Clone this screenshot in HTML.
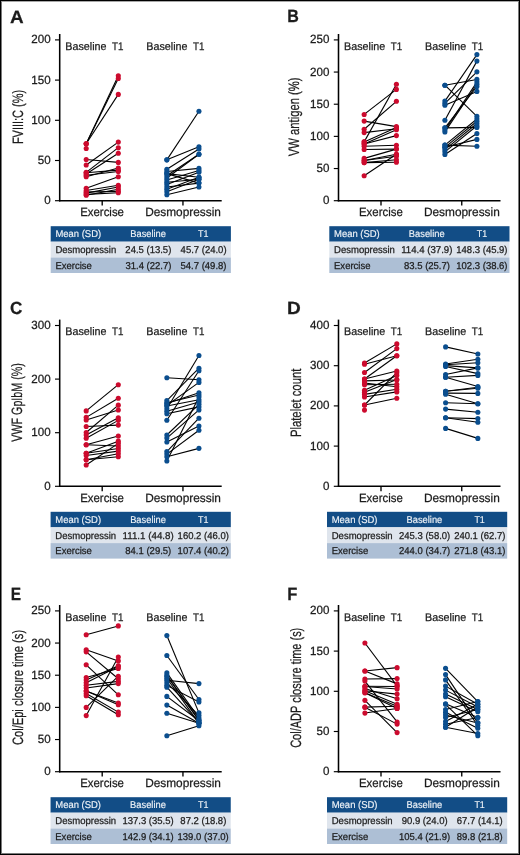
<!DOCTYPE html>
<html><head><meta charset="utf-8"><title>Figure</title><style>
html,body{margin:0;padding:0;background:#fff;}
body{width:520px;height:855px;overflow:hidden;position:relative;}
#frame{position:absolute;left:0;top:0;width:520px;height:855px;box-sizing:border-box;border:1px solid #000;}
#frame2{position:absolute;left:1px;top:1px;width:518px;height:853px;box-sizing:border-box;border:1px solid #7a7a7a;border-top-color:#a8a8a8;}
svg{position:absolute;left:0;top:0;will-change:transform;}
text{font-family:'Liberation Sans', sans-serif;text-rendering:geometricPrecision;fill:#1c1c1c;stroke:#1c1c1c;stroke-width:0.25px;}
.ax{stroke:#000;stroke-width:1.55;}
.tk{stroke:#000;stroke-width:1.15;}
.cn{stroke:#000;stroke-width:1.1;}
.th{fill:#f0f4f8;stroke:#f0f4f8;stroke-width:0.15px;}
.td{fill:#1c1c1c;}
</style></head>
<body>
<svg width="520" height="855" viewBox="0 0 520 855">
<text x="10.03" y="22.6" font-size="17.7" font-weight="bold" fill="#000" textLength="13.67" lengthAdjust="spacingAndGlyphs">A</text>
<line x1="59.7" y1="34" x2="59.7" y2="201.4" class="ax"/>
<line x1="59" y1="200.7" x2="221.7" y2="200.7" class="ax"/>
<line x1="55" y1="200.7" x2="59.7" y2="200.7" class="tk"/>
<text x="44.16" y="204.2" font-size="11.9" textLength="6.45" lengthAdjust="spacingAndGlyphs">0</text>
<line x1="55" y1="160.5" x2="59.7" y2="160.5" class="tk"/>
<text x="37.71" y="164" font-size="11.9" textLength="12.89" lengthAdjust="spacingAndGlyphs">50</text>
<line x1="55" y1="120.3" x2="59.7" y2="120.3" class="tk"/>
<text x="31.26" y="123.8" font-size="11.9" textLength="19.34" lengthAdjust="spacingAndGlyphs">100</text>
<line x1="55" y1="80.1" x2="59.7" y2="80.1" class="tk"/>
<text x="31.26" y="83.6" font-size="11.9" textLength="19.34" lengthAdjust="spacingAndGlyphs">150</text>
<line x1="55" y1="39.9" x2="59.7" y2="39.9" class="tk"/>
<text x="31.26" y="43.4" font-size="11.9" textLength="19.34" lengthAdjust="spacingAndGlyphs">200</text>
<line x1="102.2" y1="200.7" x2="102.2" y2="205.6" class="tk" style="stroke-width:1.35"/>
<line x1="182.95" y1="200.7" x2="182.95" y2="205.6" class="tk" style="stroke-width:1.35"/>
<text x="80.21" y="216.3" font-size="12.0" textLength="43.74" lengthAdjust="spacingAndGlyphs">Exercise</text>
<text x="145.13" y="216.3" font-size="12.0" textLength="75.84" lengthAdjust="spacingAndGlyphs">Desmopressin</text>
<text x="65.32" y="49.5" font-size="11.0" textLength="41.16" lengthAdjust="spacingAndGlyphs">Baseline</text>
<text x="111.98" y="49.5" font-size="11.0" textLength="11.4" lengthAdjust="spacingAndGlyphs">T1</text>
<text x="146.32" y="49.5" font-size="11.0" textLength="41.16" lengthAdjust="spacingAndGlyphs">Baseline</text>
<text x="192.98" y="49.5" font-size="11.0" textLength="11.4" lengthAdjust="spacingAndGlyphs">T1</text>
<g transform="translate(22.9,116.9) rotate(-90)"><text x="-27.2" y="0" font-size="15.0" textLength="54.18" lengthAdjust="spacingAndGlyphs">FVIII:C (%)</text></g>
<line x1="86.2" y1="143.76" x2="118.3" y2="75.68" class="cn"/>
<line x1="86.2" y1="143.76" x2="118.3" y2="78.48" class="cn"/>
<line x1="86.2" y1="143.76" x2="118.3" y2="94.4" class="cn"/>
<line x1="86.2" y1="159.52" x2="118.3" y2="162.4" class="cn"/>
<line x1="86.2" y1="165.04" x2="118.3" y2="142.08" class="cn"/>
<line x1="86.2" y1="172.32" x2="118.3" y2="147.68" class="cn"/>
<line x1="86.2" y1="174.08" x2="118.3" y2="153.28" class="cn"/>
<line x1="86.2" y1="176.72" x2="118.3" y2="168" class="cn"/>
<line x1="86.2" y1="172.8" x2="118.3" y2="170.16" class="cn"/>
<line x1="86.2" y1="175.2" x2="118.3" y2="171.52" class="cn"/>
<line x1="86.2" y1="188.32" x2="118.3" y2="176.8" class="cn"/>
<line x1="86.2" y1="190.48" x2="118.3" y2="185.28" class="cn"/>
<line x1="86.2" y1="193.12" x2="118.3" y2="187.04" class="cn"/>
<line x1="86.2" y1="195.28" x2="118.3" y2="189.2" class="cn"/>
<line x1="86.2" y1="192" x2="118.3" y2="191.36" class="cn"/>
<line x1="86.2" y1="194.4" x2="118.3" y2="192.72" class="cn"/>
<line x1="166.85" y1="159.84" x2="198.95" y2="111.2" class="cn"/>
<line x1="166.85" y1="159.84" x2="198.95" y2="146.8" class="cn"/>
<line x1="166.85" y1="169.28" x2="198.95" y2="148.96" class="cn"/>
<line x1="166.85" y1="175.76" x2="198.95" y2="154.24" class="cn"/>
<line x1="166.85" y1="178" x2="198.95" y2="154.24" class="cn"/>
<line x1="166.85" y1="171.52" x2="198.95" y2="168.4" class="cn"/>
<line x1="166.85" y1="173.6" x2="198.95" y2="177.28" class="cn"/>
<line x1="166.85" y1="180.08" x2="198.95" y2="170.56" class="cn"/>
<line x1="166.85" y1="182.24" x2="198.95" y2="179.28" class="cn"/>
<line x1="166.85" y1="184.4" x2="198.95" y2="172.32" class="cn"/>
<line x1="166.85" y1="187.04" x2="198.95" y2="183.12" class="cn"/>
<line x1="166.85" y1="189.2" x2="198.95" y2="177.28" class="cn"/>
<line x1="166.85" y1="191.76" x2="198.95" y2="179.28" class="cn"/>
<line x1="166.85" y1="194.8" x2="198.95" y2="187.04" class="cn"/>
<line x1="166.85" y1="173.6" x2="198.95" y2="183.12" class="cn"/>
<circle cx="86.2" cy="143.76" r="2.55" fill="#cc0b2e"/>
<circle cx="118.3" cy="75.68" r="2.55" fill="#cc0b2e"/>
<circle cx="86.2" cy="143.76" r="2.55" fill="#cc0b2e"/>
<circle cx="118.3" cy="78.48" r="2.55" fill="#cc0b2e"/>
<circle cx="86.2" cy="143.76" r="2.55" fill="#cc0b2e"/>
<circle cx="118.3" cy="94.4" r="2.55" fill="#cc0b2e"/>
<circle cx="86.2" cy="148.48" r="2.55" fill="#cc0b2e"/>
<circle cx="86.2" cy="159.52" r="2.55" fill="#cc0b2e"/>
<circle cx="118.3" cy="162.4" r="2.55" fill="#cc0b2e"/>
<circle cx="86.2" cy="165.04" r="2.55" fill="#cc0b2e"/>
<circle cx="118.3" cy="142.08" r="2.55" fill="#cc0b2e"/>
<circle cx="86.2" cy="172.32" r="2.55" fill="#cc0b2e"/>
<circle cx="118.3" cy="147.68" r="2.55" fill="#cc0b2e"/>
<circle cx="86.2" cy="174.08" r="2.55" fill="#cc0b2e"/>
<circle cx="118.3" cy="153.28" r="2.55" fill="#cc0b2e"/>
<circle cx="86.2" cy="176.72" r="2.55" fill="#cc0b2e"/>
<circle cx="118.3" cy="168" r="2.55" fill="#cc0b2e"/>
<circle cx="86.2" cy="172.8" r="2.55" fill="#cc0b2e"/>
<circle cx="118.3" cy="170.16" r="2.55" fill="#cc0b2e"/>
<circle cx="86.2" cy="175.2" r="2.55" fill="#cc0b2e"/>
<circle cx="118.3" cy="171.52" r="2.55" fill="#cc0b2e"/>
<circle cx="86.2" cy="188.32" r="2.55" fill="#cc0b2e"/>
<circle cx="118.3" cy="176.8" r="2.55" fill="#cc0b2e"/>
<circle cx="86.2" cy="190.48" r="2.55" fill="#cc0b2e"/>
<circle cx="118.3" cy="185.28" r="2.55" fill="#cc0b2e"/>
<circle cx="86.2" cy="193.12" r="2.55" fill="#cc0b2e"/>
<circle cx="118.3" cy="187.04" r="2.55" fill="#cc0b2e"/>
<circle cx="86.2" cy="195.28" r="2.55" fill="#cc0b2e"/>
<circle cx="118.3" cy="189.2" r="2.55" fill="#cc0b2e"/>
<circle cx="86.2" cy="192" r="2.55" fill="#cc0b2e"/>
<circle cx="118.3" cy="191.36" r="2.55" fill="#cc0b2e"/>
<circle cx="86.2" cy="194.4" r="2.55" fill="#cc0b2e"/>
<circle cx="118.3" cy="192.72" r="2.55" fill="#cc0b2e"/>
<circle cx="166.85" cy="159.84" r="2.55" fill="#0b4e8e"/>
<circle cx="198.95" cy="111.2" r="2.55" fill="#0b4e8e"/>
<circle cx="166.85" cy="159.84" r="2.55" fill="#0b4e8e"/>
<circle cx="198.95" cy="146.8" r="2.55" fill="#0b4e8e"/>
<circle cx="166.85" cy="169.28" r="2.55" fill="#0b4e8e"/>
<circle cx="198.95" cy="148.96" r="2.55" fill="#0b4e8e"/>
<circle cx="166.85" cy="175.76" r="2.55" fill="#0b4e8e"/>
<circle cx="198.95" cy="154.24" r="2.55" fill="#0b4e8e"/>
<circle cx="166.85" cy="178" r="2.55" fill="#0b4e8e"/>
<circle cx="198.95" cy="154.24" r="2.55" fill="#0b4e8e"/>
<circle cx="166.85" cy="171.52" r="2.55" fill="#0b4e8e"/>
<circle cx="198.95" cy="168.4" r="2.55" fill="#0b4e8e"/>
<circle cx="166.85" cy="173.6" r="2.55" fill="#0b4e8e"/>
<circle cx="198.95" cy="177.28" r="2.55" fill="#0b4e8e"/>
<circle cx="166.85" cy="180.08" r="2.55" fill="#0b4e8e"/>
<circle cx="198.95" cy="170.56" r="2.55" fill="#0b4e8e"/>
<circle cx="166.85" cy="182.24" r="2.55" fill="#0b4e8e"/>
<circle cx="198.95" cy="179.28" r="2.55" fill="#0b4e8e"/>
<circle cx="166.85" cy="184.4" r="2.55" fill="#0b4e8e"/>
<circle cx="198.95" cy="172.32" r="2.55" fill="#0b4e8e"/>
<circle cx="166.85" cy="187.04" r="2.55" fill="#0b4e8e"/>
<circle cx="198.95" cy="183.12" r="2.55" fill="#0b4e8e"/>
<circle cx="166.85" cy="189.2" r="2.55" fill="#0b4e8e"/>
<circle cx="198.95" cy="177.28" r="2.55" fill="#0b4e8e"/>
<circle cx="166.85" cy="191.76" r="2.55" fill="#0b4e8e"/>
<circle cx="198.95" cy="179.28" r="2.55" fill="#0b4e8e"/>
<circle cx="166.85" cy="194.8" r="2.55" fill="#0b4e8e"/>
<circle cx="198.95" cy="187.04" r="2.55" fill="#0b4e8e"/>
<circle cx="166.85" cy="173.6" r="2.55" fill="#0b4e8e"/>
<circle cx="198.95" cy="183.12" r="2.55" fill="#0b4e8e"/>
<rect x="50.7" y="226.2" width="180.2" height="15.5" fill="#124d86"/>
<rect x="50.7" y="241.7" width="180.2" height="15.8" fill="#dfe5ed"/>
<rect x="50.7" y="257.5" width="180.2" height="15.5" fill="#adbfd5"/>
<text x="55.42" y="237.1" font-size="9.9" class="th" textLength="45.76" lengthAdjust="spacingAndGlyphs">Mean (SD)</text>
<text x="130.23" y="237.1" font-size="9.9" class="th" textLength="35.78" lengthAdjust="spacingAndGlyphs">Baseline</text>
<text x="198.12" y="237.1" font-size="9.9" class="th" textLength="10.4" lengthAdjust="spacingAndGlyphs">T1</text>
<text x="55.42" y="252.95" font-size="9.9" class="td" textLength="60.87" lengthAdjust="spacingAndGlyphs">Desmopressin</text>
<text x="125.37" y="252.95" font-size="9.9" class="td" textLength="45.97" lengthAdjust="spacingAndGlyphs">24.5 (13.5)</text>
<text x="180.6" y="252.95" font-size="9.9" class="td" textLength="45.97" lengthAdjust="spacingAndGlyphs">45.7 (24.0)</text>
<text x="55.42" y="268.6" font-size="9.9" class="td" textLength="36.52" lengthAdjust="spacingAndGlyphs">Exercise</text>
<text x="125.43" y="268.6" font-size="9.9" class="td" textLength="45.97" lengthAdjust="spacingAndGlyphs">31.4 (22.7)</text>
<text x="180.52" y="268.6" font-size="9.9" class="td" textLength="45.97" lengthAdjust="spacingAndGlyphs">54.7 (49.8)</text>
<text x="287.33" y="22.3" font-size="17.7" font-weight="bold" fill="#000" textLength="11.6" lengthAdjust="spacingAndGlyphs">B</text>
<line x1="338.5" y1="34" x2="338.5" y2="201.4" class="ax"/>
<line x1="337.8" y1="200.7" x2="500.5" y2="200.7" class="ax"/>
<line x1="333.8" y1="200.7" x2="338.5" y2="200.7" class="tk"/>
<text x="322.96" y="204.2" font-size="11.9" textLength="6.45" lengthAdjust="spacingAndGlyphs">0</text>
<line x1="333.8" y1="168.54" x2="338.5" y2="168.54" class="tk"/>
<text x="316.51" y="172.04" font-size="11.9" textLength="12.89" lengthAdjust="spacingAndGlyphs">50</text>
<line x1="333.8" y1="136.38" x2="338.5" y2="136.38" class="tk"/>
<text x="310.06" y="139.88" font-size="11.9" textLength="19.34" lengthAdjust="spacingAndGlyphs">100</text>
<line x1="333.8" y1="104.22" x2="338.5" y2="104.22" class="tk"/>
<text x="310.06" y="107.72" font-size="11.9" textLength="19.34" lengthAdjust="spacingAndGlyphs">150</text>
<line x1="333.8" y1="72.06" x2="338.5" y2="72.06" class="tk"/>
<text x="310.06" y="75.56" font-size="11.9" textLength="19.34" lengthAdjust="spacingAndGlyphs">200</text>
<line x1="333.8" y1="39.9" x2="338.5" y2="39.9" class="tk"/>
<text x="310.06" y="43.4" font-size="11.9" textLength="19.34" lengthAdjust="spacingAndGlyphs">250</text>
<line x1="381" y1="200.7" x2="381" y2="205.6" class="tk" style="stroke-width:1.35"/>
<line x1="461.75" y1="200.7" x2="461.75" y2="205.6" class="tk" style="stroke-width:1.35"/>
<text x="359.01" y="216.3" font-size="12.0" textLength="43.74" lengthAdjust="spacingAndGlyphs">Exercise</text>
<text x="423.93" y="216.3" font-size="12.0" textLength="75.84" lengthAdjust="spacingAndGlyphs">Desmopressin</text>
<text x="344.12" y="49.5" font-size="11.0" textLength="41.16" lengthAdjust="spacingAndGlyphs">Baseline</text>
<text x="390.78" y="49.5" font-size="11.0" textLength="11.4" lengthAdjust="spacingAndGlyphs">T1</text>
<text x="425.12" y="49.5" font-size="11.0" textLength="41.16" lengthAdjust="spacingAndGlyphs">Baseline</text>
<text x="471.78" y="49.5" font-size="11.0" textLength="11.4" lengthAdjust="spacingAndGlyphs">T1</text>
<g transform="translate(299,117.15) rotate(-90)"><text x="-39" y="0" font-size="15.0" textLength="78.65" lengthAdjust="spacingAndGlyphs">VW antigen (%)</text></g>
<line x1="364.15" y1="114.43" x2="396.4" y2="89.41" class="cn"/>
<line x1="364.15" y1="121.09" x2="396.4" y2="126.59" class="cn"/>
<line x1="364.15" y1="129.22" x2="396.4" y2="101.31" class="cn"/>
<line x1="364.15" y1="132.61" x2="396.4" y2="128.77" class="cn"/>
<line x1="364.15" y1="141.89" x2="396.4" y2="84.29" class="cn"/>
<line x1="364.15" y1="141.89" x2="396.4" y2="127.49" class="cn"/>
<line x1="364.15" y1="144" x2="396.4" y2="135.62" class="cn"/>
<line x1="364.15" y1="144" x2="396.4" y2="129.73" class="cn"/>
<line x1="364.15" y1="146.18" x2="396.4" y2="145.28" class="cn"/>
<line x1="364.15" y1="149.5" x2="396.4" y2="149.12" class="cn"/>
<line x1="364.15" y1="158.4" x2="396.4" y2="149.12" class="cn"/>
<line x1="364.15" y1="160.51" x2="396.4" y2="154.18" class="cn"/>
<line x1="364.15" y1="160.51" x2="396.4" y2="156.29" class="cn"/>
<line x1="364.15" y1="162.62" x2="396.4" y2="159.68" class="cn"/>
<line x1="364.15" y1="162.62" x2="396.4" y2="162.18" class="cn"/>
<line x1="364.15" y1="175.81" x2="396.4" y2="154.18" class="cn"/>
<line x1="444.9" y1="85.18" x2="476.9" y2="79.42" class="cn"/>
<line x1="444.9" y1="85.18" x2="476.9" y2="116.42" class="cn"/>
<line x1="444.9" y1="101.12" x2="476.9" y2="54.59" class="cn"/>
<line x1="444.9" y1="103.3" x2="476.9" y2="71.87" class="cn"/>
<line x1="444.9" y1="105.28" x2="476.9" y2="91.39" class="cn"/>
<line x1="444.9" y1="120.19" x2="476.9" y2="61.12" class="cn"/>
<line x1="444.9" y1="127.87" x2="476.9" y2="86.53" class="cn"/>
<line x1="444.9" y1="127.87" x2="476.9" y2="127.42" class="cn"/>
<line x1="444.9" y1="130.11" x2="476.9" y2="82.11" class="cn"/>
<line x1="444.9" y1="131.9" x2="476.9" y2="84.29" class="cn"/>
<line x1="444.9" y1="145.09" x2="476.9" y2="118.98" class="cn"/>
<line x1="444.9" y1="147.33" x2="476.9" y2="121.22" class="cn"/>
<line x1="444.9" y1="149.57" x2="476.9" y2="123.52" class="cn"/>
<line x1="444.9" y1="151.81" x2="476.9" y2="125.7" class="cn"/>
<line x1="444.9" y1="154.43" x2="476.9" y2="133.57" class="cn"/>
<line x1="444.9" y1="147.33" x2="476.9" y2="139.39" class="cn"/>
<line x1="444.9" y1="145.09" x2="476.9" y2="146.18" class="cn"/>
<circle cx="364.15" cy="114.43" r="2.55" fill="#cc0b2e"/>
<circle cx="396.4" cy="89.41" r="2.55" fill="#cc0b2e"/>
<circle cx="364.15" cy="121.09" r="2.55" fill="#cc0b2e"/>
<circle cx="396.4" cy="126.59" r="2.55" fill="#cc0b2e"/>
<circle cx="364.15" cy="129.22" r="2.55" fill="#cc0b2e"/>
<circle cx="396.4" cy="101.31" r="2.55" fill="#cc0b2e"/>
<circle cx="364.15" cy="132.61" r="2.55" fill="#cc0b2e"/>
<circle cx="396.4" cy="128.77" r="2.55" fill="#cc0b2e"/>
<circle cx="364.15" cy="141.89" r="2.55" fill="#cc0b2e"/>
<circle cx="396.4" cy="84.29" r="2.55" fill="#cc0b2e"/>
<circle cx="364.15" cy="141.89" r="2.55" fill="#cc0b2e"/>
<circle cx="396.4" cy="127.49" r="2.55" fill="#cc0b2e"/>
<circle cx="364.15" cy="144" r="2.55" fill="#cc0b2e"/>
<circle cx="396.4" cy="135.62" r="2.55" fill="#cc0b2e"/>
<circle cx="364.15" cy="144" r="2.55" fill="#cc0b2e"/>
<circle cx="396.4" cy="129.73" r="2.55" fill="#cc0b2e"/>
<circle cx="364.15" cy="146.18" r="2.55" fill="#cc0b2e"/>
<circle cx="396.4" cy="145.28" r="2.55" fill="#cc0b2e"/>
<circle cx="364.15" cy="149.5" r="2.55" fill="#cc0b2e"/>
<circle cx="396.4" cy="149.12" r="2.55" fill="#cc0b2e"/>
<circle cx="364.15" cy="158.4" r="2.55" fill="#cc0b2e"/>
<circle cx="396.4" cy="149.12" r="2.55" fill="#cc0b2e"/>
<circle cx="364.15" cy="160.51" r="2.55" fill="#cc0b2e"/>
<circle cx="396.4" cy="154.18" r="2.55" fill="#cc0b2e"/>
<circle cx="364.15" cy="160.51" r="2.55" fill="#cc0b2e"/>
<circle cx="396.4" cy="156.29" r="2.55" fill="#cc0b2e"/>
<circle cx="364.15" cy="162.62" r="2.55" fill="#cc0b2e"/>
<circle cx="396.4" cy="159.68" r="2.55" fill="#cc0b2e"/>
<circle cx="364.15" cy="162.62" r="2.55" fill="#cc0b2e"/>
<circle cx="396.4" cy="162.18" r="2.55" fill="#cc0b2e"/>
<circle cx="364.15" cy="175.81" r="2.55" fill="#cc0b2e"/>
<circle cx="396.4" cy="154.18" r="2.55" fill="#cc0b2e"/>
<circle cx="444.9" cy="85.18" r="2.55" fill="#0b4e8e"/>
<circle cx="476.9" cy="79.42" r="2.55" fill="#0b4e8e"/>
<circle cx="444.9" cy="85.18" r="2.55" fill="#0b4e8e"/>
<circle cx="476.9" cy="116.42" r="2.55" fill="#0b4e8e"/>
<circle cx="444.9" cy="101.12" r="2.55" fill="#0b4e8e"/>
<circle cx="476.9" cy="54.59" r="2.55" fill="#0b4e8e"/>
<circle cx="444.9" cy="103.3" r="2.55" fill="#0b4e8e"/>
<circle cx="476.9" cy="71.87" r="2.55" fill="#0b4e8e"/>
<circle cx="444.9" cy="105.28" r="2.55" fill="#0b4e8e"/>
<circle cx="476.9" cy="91.39" r="2.55" fill="#0b4e8e"/>
<circle cx="444.9" cy="120.19" r="2.55" fill="#0b4e8e"/>
<circle cx="476.9" cy="61.12" r="2.55" fill="#0b4e8e"/>
<circle cx="444.9" cy="127.87" r="2.55" fill="#0b4e8e"/>
<circle cx="476.9" cy="86.53" r="2.55" fill="#0b4e8e"/>
<circle cx="444.9" cy="127.87" r="2.55" fill="#0b4e8e"/>
<circle cx="476.9" cy="127.42" r="2.55" fill="#0b4e8e"/>
<circle cx="444.9" cy="130.11" r="2.55" fill="#0b4e8e"/>
<circle cx="476.9" cy="82.11" r="2.55" fill="#0b4e8e"/>
<circle cx="444.9" cy="131.9" r="2.55" fill="#0b4e8e"/>
<circle cx="476.9" cy="84.29" r="2.55" fill="#0b4e8e"/>
<circle cx="444.9" cy="145.09" r="2.55" fill="#0b4e8e"/>
<circle cx="476.9" cy="118.98" r="2.55" fill="#0b4e8e"/>
<circle cx="444.9" cy="147.33" r="2.55" fill="#0b4e8e"/>
<circle cx="476.9" cy="121.22" r="2.55" fill="#0b4e8e"/>
<circle cx="444.9" cy="149.57" r="2.55" fill="#0b4e8e"/>
<circle cx="476.9" cy="123.52" r="2.55" fill="#0b4e8e"/>
<circle cx="444.9" cy="151.81" r="2.55" fill="#0b4e8e"/>
<circle cx="476.9" cy="125.7" r="2.55" fill="#0b4e8e"/>
<circle cx="444.9" cy="154.43" r="2.55" fill="#0b4e8e"/>
<circle cx="476.9" cy="133.57" r="2.55" fill="#0b4e8e"/>
<circle cx="444.9" cy="147.33" r="2.55" fill="#0b4e8e"/>
<circle cx="476.9" cy="139.39" r="2.55" fill="#0b4e8e"/>
<circle cx="444.9" cy="145.09" r="2.55" fill="#0b4e8e"/>
<circle cx="476.9" cy="146.18" r="2.55" fill="#0b4e8e"/>
<rect x="329.3" y="226.2" width="180.2" height="15.5" fill="#124d86"/>
<rect x="329.3" y="241.7" width="180.2" height="15.8" fill="#dfe5ed"/>
<rect x="329.3" y="257.5" width="180.2" height="15.5" fill="#adbfd5"/>
<text x="334.02" y="237.1" font-size="9.9" class="th" textLength="45.76" lengthAdjust="spacingAndGlyphs">Mean (SD)</text>
<text x="408.83" y="237.1" font-size="9.9" class="th" textLength="35.78" lengthAdjust="spacingAndGlyphs">Baseline</text>
<text x="476.72" y="237.1" font-size="9.9" class="th" textLength="10.4" lengthAdjust="spacingAndGlyphs">T1</text>
<text x="334.02" y="252.95" font-size="9.9" class="td" textLength="60.87" lengthAdjust="spacingAndGlyphs">Desmopressin</text>
<text x="401.21" y="252.95" font-size="9.9" class="td" textLength="51.25" lengthAdjust="spacingAndGlyphs">114.4 (37.9)</text>
<text x="456.31" y="252.95" font-size="9.9" class="td" textLength="51.25" lengthAdjust="spacingAndGlyphs">148.3 (45.9)</text>
<text x="334.02" y="268.6" font-size="9.9" class="td" textLength="36.52" lengthAdjust="spacingAndGlyphs">Exercise</text>
<text x="404.01" y="268.6" font-size="9.9" class="td" textLength="45.97" lengthAdjust="spacingAndGlyphs">83.5 (25.7)</text>
<text x="456.31" y="268.6" font-size="9.9" class="td" textLength="51.25" lengthAdjust="spacingAndGlyphs">102.3 (38.6)</text>
<text x="10.1" y="314.4" font-size="17.7" font-weight="bold" fill="#000" textLength="12.37" lengthAdjust="spacingAndGlyphs">C</text>
<line x1="59.7" y1="319.6" x2="59.7" y2="487" class="ax"/>
<line x1="59" y1="486.3" x2="221.7" y2="486.3" class="ax"/>
<line x1="55" y1="486.3" x2="59.7" y2="486.3" class="tk"/>
<text x="44.16" y="489.8" font-size="11.9" textLength="6.45" lengthAdjust="spacingAndGlyphs">0</text>
<line x1="55" y1="432.7" x2="59.7" y2="432.7" class="tk"/>
<text x="31.26" y="436.2" font-size="11.9" textLength="19.34" lengthAdjust="spacingAndGlyphs">100</text>
<line x1="55" y1="379.1" x2="59.7" y2="379.1" class="tk"/>
<text x="31.26" y="382.6" font-size="11.9" textLength="19.34" lengthAdjust="spacingAndGlyphs">200</text>
<line x1="55" y1="325.5" x2="59.7" y2="325.5" class="tk"/>
<text x="31.26" y="329" font-size="11.9" textLength="19.34" lengthAdjust="spacingAndGlyphs">300</text>
<line x1="102.2" y1="486.3" x2="102.2" y2="491.2" class="tk" style="stroke-width:1.35"/>
<line x1="182.95" y1="486.3" x2="182.95" y2="491.2" class="tk" style="stroke-width:1.35"/>
<text x="80.21" y="501.9" font-size="12.0" textLength="43.74" lengthAdjust="spacingAndGlyphs">Exercise</text>
<text x="145.13" y="501.9" font-size="12.0" textLength="75.84" lengthAdjust="spacingAndGlyphs">Desmopressin</text>
<text x="65.32" y="335.1" font-size="11.0" textLength="41.16" lengthAdjust="spacingAndGlyphs">Baseline</text>
<text x="111.98" y="335.1" font-size="11.0" textLength="11.4" lengthAdjust="spacingAndGlyphs">T1</text>
<text x="146.32" y="335.1" font-size="11.0" textLength="41.16" lengthAdjust="spacingAndGlyphs">Baseline</text>
<text x="192.98" y="335.1" font-size="11.0" textLength="11.4" lengthAdjust="spacingAndGlyphs">T1</text>
<g transform="translate(22.4,402.75) rotate(-90)"><text x="-39" y="0" font-size="15.0" textLength="78.61" lengthAdjust="spacingAndGlyphs">VWF GpIbM (%)</text></g>
<line x1="86.2" y1="410.88" x2="118.3" y2="384.69" class="cn"/>
<line x1="86.2" y1="417.39" x2="118.3" y2="398.29" class="cn"/>
<line x1="86.2" y1="420" x2="118.3" y2="409.97" class="cn"/>
<line x1="86.2" y1="426.51" x2="118.3" y2="425.12" class="cn"/>
<line x1="86.2" y1="432.48" x2="118.3" y2="405.17" class="cn"/>
<line x1="86.2" y1="435.09" x2="118.3" y2="417.81" class="cn"/>
<line x1="86.2" y1="438.19" x2="118.3" y2="420.37" class="cn"/>
<line x1="86.2" y1="444.69" x2="118.3" y2="436" class="cn"/>
<line x1="86.2" y1="444.69" x2="118.3" y2="445.97" class="cn"/>
<line x1="86.2" y1="453.28" x2="118.3" y2="441.17" class="cn"/>
<line x1="86.2" y1="453.28" x2="118.3" y2="448.48" class="cn"/>
<line x1="86.2" y1="455.52" x2="118.3" y2="451.09" class="cn"/>
<line x1="86.2" y1="459.79" x2="118.3" y2="453.71" class="cn"/>
<line x1="86.2" y1="459.79" x2="118.3" y2="456.8" class="cn"/>
<line x1="86.2" y1="465.01" x2="118.3" y2="443.41" class="cn"/>
<line x1="166.85" y1="377.71" x2="198.95" y2="379.79" class="cn"/>
<line x1="166.85" y1="400.59" x2="198.95" y2="368.21" class="cn"/>
<line x1="166.85" y1="402.77" x2="198.95" y2="394.99" class="cn"/>
<line x1="166.85" y1="403.52" x2="198.95" y2="392.8" class="cn"/>
<line x1="166.85" y1="405.39" x2="198.95" y2="382.4" class="cn"/>
<line x1="166.85" y1="406.08" x2="198.95" y2="399.68" class="cn"/>
<line x1="166.85" y1="408.69" x2="198.95" y2="355.57" class="cn"/>
<line x1="166.85" y1="411.2" x2="198.95" y2="401.92" class="cn"/>
<line x1="166.85" y1="413.81" x2="198.95" y2="406.88" class="cn"/>
<line x1="166.85" y1="420.32" x2="198.95" y2="370.77" class="cn"/>
<line x1="166.85" y1="434.99" x2="198.95" y2="404.32" class="cn"/>
<line x1="166.85" y1="438.08" x2="198.95" y2="409.92" class="cn"/>
<line x1="166.85" y1="441.97" x2="198.95" y2="425.97" class="cn"/>
<line x1="166.85" y1="451.52" x2="198.95" y2="418.19" class="cn"/>
<line x1="166.85" y1="454.08" x2="198.95" y2="430.29" class="cn"/>
<line x1="166.85" y1="456.69" x2="198.95" y2="448.37" class="cn"/>
<line x1="166.85" y1="461.01" x2="198.95" y2="397.12" class="cn"/>
<circle cx="86.2" cy="410.88" r="2.55" fill="#cc0b2e"/>
<circle cx="118.3" cy="384.69" r="2.55" fill="#cc0b2e"/>
<circle cx="86.2" cy="417.39" r="2.55" fill="#cc0b2e"/>
<circle cx="118.3" cy="398.29" r="2.55" fill="#cc0b2e"/>
<circle cx="86.2" cy="420" r="2.55" fill="#cc0b2e"/>
<circle cx="118.3" cy="409.97" r="2.55" fill="#cc0b2e"/>
<circle cx="86.2" cy="426.51" r="2.55" fill="#cc0b2e"/>
<circle cx="118.3" cy="425.12" r="2.55" fill="#cc0b2e"/>
<circle cx="86.2" cy="432.48" r="2.55" fill="#cc0b2e"/>
<circle cx="118.3" cy="405.17" r="2.55" fill="#cc0b2e"/>
<circle cx="86.2" cy="435.09" r="2.55" fill="#cc0b2e"/>
<circle cx="118.3" cy="417.81" r="2.55" fill="#cc0b2e"/>
<circle cx="86.2" cy="438.19" r="2.55" fill="#cc0b2e"/>
<circle cx="118.3" cy="420.37" r="2.55" fill="#cc0b2e"/>
<circle cx="86.2" cy="444.69" r="2.55" fill="#cc0b2e"/>
<circle cx="118.3" cy="436" r="2.55" fill="#cc0b2e"/>
<circle cx="86.2" cy="444.69" r="2.55" fill="#cc0b2e"/>
<circle cx="118.3" cy="445.97" r="2.55" fill="#cc0b2e"/>
<circle cx="86.2" cy="453.28" r="2.55" fill="#cc0b2e"/>
<circle cx="118.3" cy="441.17" r="2.55" fill="#cc0b2e"/>
<circle cx="86.2" cy="453.28" r="2.55" fill="#cc0b2e"/>
<circle cx="118.3" cy="448.48" r="2.55" fill="#cc0b2e"/>
<circle cx="86.2" cy="455.52" r="2.55" fill="#cc0b2e"/>
<circle cx="118.3" cy="451.09" r="2.55" fill="#cc0b2e"/>
<circle cx="86.2" cy="459.79" r="2.55" fill="#cc0b2e"/>
<circle cx="118.3" cy="453.71" r="2.55" fill="#cc0b2e"/>
<circle cx="86.2" cy="459.79" r="2.55" fill="#cc0b2e"/>
<circle cx="118.3" cy="456.8" r="2.55" fill="#cc0b2e"/>
<circle cx="86.2" cy="465.01" r="2.55" fill="#cc0b2e"/>
<circle cx="118.3" cy="443.41" r="2.55" fill="#cc0b2e"/>
<circle cx="166.85" cy="377.71" r="2.55" fill="#0b4e8e"/>
<circle cx="198.95" cy="379.79" r="2.55" fill="#0b4e8e"/>
<circle cx="166.85" cy="400.59" r="2.55" fill="#0b4e8e"/>
<circle cx="198.95" cy="368.21" r="2.55" fill="#0b4e8e"/>
<circle cx="166.85" cy="402.77" r="2.55" fill="#0b4e8e"/>
<circle cx="198.95" cy="394.99" r="2.55" fill="#0b4e8e"/>
<circle cx="166.85" cy="403.52" r="2.55" fill="#0b4e8e"/>
<circle cx="198.95" cy="392.8" r="2.55" fill="#0b4e8e"/>
<circle cx="166.85" cy="405.39" r="2.55" fill="#0b4e8e"/>
<circle cx="198.95" cy="382.4" r="2.55" fill="#0b4e8e"/>
<circle cx="166.85" cy="406.08" r="2.55" fill="#0b4e8e"/>
<circle cx="198.95" cy="399.68" r="2.55" fill="#0b4e8e"/>
<circle cx="166.85" cy="408.69" r="2.55" fill="#0b4e8e"/>
<circle cx="198.95" cy="355.57" r="2.55" fill="#0b4e8e"/>
<circle cx="166.85" cy="411.2" r="2.55" fill="#0b4e8e"/>
<circle cx="198.95" cy="401.92" r="2.55" fill="#0b4e8e"/>
<circle cx="166.85" cy="413.81" r="2.55" fill="#0b4e8e"/>
<circle cx="198.95" cy="406.88" r="2.55" fill="#0b4e8e"/>
<circle cx="166.85" cy="420.32" r="2.55" fill="#0b4e8e"/>
<circle cx="198.95" cy="370.77" r="2.55" fill="#0b4e8e"/>
<circle cx="166.85" cy="434.99" r="2.55" fill="#0b4e8e"/>
<circle cx="198.95" cy="404.32" r="2.55" fill="#0b4e8e"/>
<circle cx="166.85" cy="438.08" r="2.55" fill="#0b4e8e"/>
<circle cx="198.95" cy="409.92" r="2.55" fill="#0b4e8e"/>
<circle cx="166.85" cy="441.97" r="2.55" fill="#0b4e8e"/>
<circle cx="198.95" cy="425.97" r="2.55" fill="#0b4e8e"/>
<circle cx="166.85" cy="451.52" r="2.55" fill="#0b4e8e"/>
<circle cx="198.95" cy="418.19" r="2.55" fill="#0b4e8e"/>
<circle cx="166.85" cy="454.08" r="2.55" fill="#0b4e8e"/>
<circle cx="198.95" cy="430.29" r="2.55" fill="#0b4e8e"/>
<circle cx="166.85" cy="456.69" r="2.55" fill="#0b4e8e"/>
<circle cx="198.95" cy="448.37" r="2.55" fill="#0b4e8e"/>
<circle cx="166.85" cy="461.01" r="2.55" fill="#0b4e8e"/>
<circle cx="198.95" cy="397.12" r="2.55" fill="#0b4e8e"/>
<rect x="50.6" y="511.8" width="180.2" height="15.5" fill="#124d86"/>
<rect x="50.6" y="527.3" width="180.2" height="15.8" fill="#dfe5ed"/>
<rect x="50.6" y="543.1" width="180.2" height="15.5" fill="#adbfd5"/>
<text x="55.32" y="522.7" font-size="9.9" class="th" textLength="45.76" lengthAdjust="spacingAndGlyphs">Mean (SD)</text>
<text x="130.13" y="522.7" font-size="9.9" class="th" textLength="35.78" lengthAdjust="spacingAndGlyphs">Baseline</text>
<text x="198.02" y="522.7" font-size="9.9" class="th" textLength="10.4" lengthAdjust="spacingAndGlyphs">T1</text>
<text x="55.32" y="538.55" font-size="9.9" class="td" textLength="60.87" lengthAdjust="spacingAndGlyphs">Desmopressin</text>
<text x="122.51" y="538.55" font-size="9.9" class="td" textLength="51.25" lengthAdjust="spacingAndGlyphs">111.1 (44.8)</text>
<text x="177.61" y="538.55" font-size="9.9" class="td" textLength="51.25" lengthAdjust="spacingAndGlyphs">160.2 (46.0)</text>
<text x="55.32" y="554.2" font-size="9.9" class="td" textLength="36.52" lengthAdjust="spacingAndGlyphs">Exercise</text>
<text x="125.31" y="554.2" font-size="9.9" class="td" textLength="45.97" lengthAdjust="spacingAndGlyphs">84.1 (29.5)</text>
<text x="177.61" y="554.2" font-size="9.9" class="td" textLength="51.25" lengthAdjust="spacingAndGlyphs">107.4 (40.2)</text>
<text x="287.12" y="314.3" font-size="17.7" font-weight="bold" fill="#000" textLength="13.78" lengthAdjust="spacingAndGlyphs">D</text>
<line x1="338.5" y1="319.6" x2="338.5" y2="487" class="ax"/>
<line x1="337.8" y1="486.3" x2="500.5" y2="486.3" class="ax"/>
<line x1="333.8" y1="486.3" x2="338.5" y2="486.3" class="tk"/>
<text x="322.96" y="489.8" font-size="11.9" textLength="6.45" lengthAdjust="spacingAndGlyphs">0</text>
<line x1="333.8" y1="446.1" x2="338.5" y2="446.1" class="tk"/>
<text x="310.06" y="449.6" font-size="11.9" textLength="19.34" lengthAdjust="spacingAndGlyphs">100</text>
<line x1="333.8" y1="405.9" x2="338.5" y2="405.9" class="tk"/>
<text x="310.06" y="409.4" font-size="11.9" textLength="19.34" lengthAdjust="spacingAndGlyphs">200</text>
<line x1="333.8" y1="365.7" x2="338.5" y2="365.7" class="tk"/>
<text x="310.06" y="369.2" font-size="11.9" textLength="19.34" lengthAdjust="spacingAndGlyphs">300</text>
<line x1="333.8" y1="325.5" x2="338.5" y2="325.5" class="tk"/>
<text x="310.06" y="329" font-size="11.9" textLength="19.34" lengthAdjust="spacingAndGlyphs">400</text>
<line x1="381" y1="486.3" x2="381" y2="491.2" class="tk" style="stroke-width:1.35"/>
<line x1="461.75" y1="486.3" x2="461.75" y2="491.2" class="tk" style="stroke-width:1.35"/>
<text x="359.01" y="501.9" font-size="12.0" textLength="43.74" lengthAdjust="spacingAndGlyphs">Exercise</text>
<text x="423.93" y="501.9" font-size="12.0" textLength="75.84" lengthAdjust="spacingAndGlyphs">Desmopressin</text>
<text x="344.12" y="335.1" font-size="11.0" textLength="41.16" lengthAdjust="spacingAndGlyphs">Baseline</text>
<text x="390.78" y="335.1" font-size="11.0" textLength="11.4" lengthAdjust="spacingAndGlyphs">T1</text>
<text x="425.12" y="335.1" font-size="11.0" textLength="41.16" lengthAdjust="spacingAndGlyphs">Baseline</text>
<text x="471.78" y="335.1" font-size="11.0" textLength="11.4" lengthAdjust="spacingAndGlyphs">T1</text>
<g transform="translate(301.1,402.45) rotate(-90)"><text x="-34.68" y="0" font-size="15.0" textLength="68.51" lengthAdjust="spacingAndGlyphs">Platelet count</text></g>
<line x1="364.5" y1="363" x2="396.8" y2="343.88" class="cn"/>
<line x1="364.5" y1="364.2" x2="396.8" y2="355.8" class="cn"/>
<line x1="364.5" y1="372.48" x2="396.8" y2="348.6" class="cn"/>
<line x1="364.5" y1="379" x2="396.8" y2="355.8" class="cn"/>
<line x1="364.5" y1="379" x2="396.8" y2="371" class="cn"/>
<line x1="364.5" y1="380.88" x2="396.8" y2="380" class="cn"/>
<line x1="364.5" y1="383" x2="396.8" y2="386.8" class="cn"/>
<line x1="364.5" y1="384.68" x2="396.8" y2="384.28" class="cn"/>
<line x1="364.5" y1="390.2" x2="396.8" y2="375.4" class="cn"/>
<line x1="364.5" y1="392.28" x2="396.8" y2="379.48" class="cn"/>
<line x1="364.5" y1="394.4" x2="396.8" y2="389.28" class="cn"/>
<line x1="364.5" y1="397" x2="396.8" y2="391.88" class="cn"/>
<line x1="364.5" y1="405" x2="396.8" y2="372.68" class="cn"/>
<line x1="364.5" y1="405" x2="396.8" y2="398.2" class="cn"/>
<line x1="445.6" y1="346.88" x2="477.85" y2="354" class="cn"/>
<line x1="445.6" y1="364" x2="477.85" y2="359.28" class="cn"/>
<line x1="445.6" y1="364.8" x2="477.85" y2="362.8" class="cn"/>
<line x1="445.6" y1="365.6" x2="477.85" y2="367.88" class="cn"/>
<line x1="445.6" y1="366.48" x2="477.85" y2="373.6" class="cn"/>
<line x1="445.6" y1="374.48" x2="477.85" y2="367.88" class="cn"/>
<line x1="445.6" y1="377.2" x2="477.85" y2="375.4" class="cn"/>
<line x1="445.6" y1="377.2" x2="477.85" y2="386.48" class="cn"/>
<line x1="445.6" y1="391.2" x2="477.85" y2="388.2" class="cn"/>
<line x1="445.6" y1="391.2" x2="477.85" y2="387.2" class="cn"/>
<line x1="445.6" y1="393.08" x2="477.85" y2="393.4" class="cn"/>
<line x1="445.6" y1="394.28" x2="477.85" y2="403.8" class="cn"/>
<line x1="445.6" y1="402.68" x2="477.85" y2="403.8" class="cn"/>
<line x1="445.6" y1="409.08" x2="477.85" y2="412.28" class="cn"/>
<line x1="445.6" y1="417.68" x2="477.85" y2="418.6" class="cn"/>
<line x1="445.6" y1="417.68" x2="477.85" y2="422.2" class="cn"/>
<line x1="445.6" y1="428.4" x2="477.85" y2="438.4" class="cn"/>
<circle cx="364.5" cy="363" r="2.55" fill="#cc0b2e"/>
<circle cx="396.8" cy="343.88" r="2.55" fill="#cc0b2e"/>
<circle cx="364.5" cy="364.2" r="2.55" fill="#cc0b2e"/>
<circle cx="396.8" cy="355.8" r="2.55" fill="#cc0b2e"/>
<circle cx="364.5" cy="372.48" r="2.55" fill="#cc0b2e"/>
<circle cx="396.8" cy="348.6" r="2.55" fill="#cc0b2e"/>
<circle cx="364.5" cy="379" r="2.55" fill="#cc0b2e"/>
<circle cx="396.8" cy="355.8" r="2.55" fill="#cc0b2e"/>
<circle cx="364.5" cy="379" r="2.55" fill="#cc0b2e"/>
<circle cx="396.8" cy="371" r="2.55" fill="#cc0b2e"/>
<circle cx="364.5" cy="380.88" r="2.55" fill="#cc0b2e"/>
<circle cx="396.8" cy="380" r="2.55" fill="#cc0b2e"/>
<circle cx="364.5" cy="383" r="2.55" fill="#cc0b2e"/>
<circle cx="396.8" cy="386.8" r="2.55" fill="#cc0b2e"/>
<circle cx="364.5" cy="384.68" r="2.55" fill="#cc0b2e"/>
<circle cx="396.8" cy="384.28" r="2.55" fill="#cc0b2e"/>
<circle cx="364.5" cy="390.2" r="2.55" fill="#cc0b2e"/>
<circle cx="396.8" cy="375.4" r="2.55" fill="#cc0b2e"/>
<circle cx="364.5" cy="392.28" r="2.55" fill="#cc0b2e"/>
<circle cx="396.8" cy="379.48" r="2.55" fill="#cc0b2e"/>
<circle cx="364.5" cy="394.4" r="2.55" fill="#cc0b2e"/>
<circle cx="396.8" cy="389.28" r="2.55" fill="#cc0b2e"/>
<circle cx="364.5" cy="397" r="2.55" fill="#cc0b2e"/>
<circle cx="396.8" cy="391.88" r="2.55" fill="#cc0b2e"/>
<circle cx="364.5" cy="405" r="2.55" fill="#cc0b2e"/>
<circle cx="396.8" cy="372.68" r="2.55" fill="#cc0b2e"/>
<circle cx="364.5" cy="405" r="2.55" fill="#cc0b2e"/>
<circle cx="396.8" cy="398.2" r="2.55" fill="#cc0b2e"/>
<circle cx="364.5" cy="410.08" r="2.55" fill="#cc0b2e"/>
<circle cx="445.6" cy="346.88" r="2.55" fill="#0b4e8e"/>
<circle cx="477.85" cy="354" r="2.55" fill="#0b4e8e"/>
<circle cx="445.6" cy="364" r="2.55" fill="#0b4e8e"/>
<circle cx="477.85" cy="359.28" r="2.55" fill="#0b4e8e"/>
<circle cx="445.6" cy="364.8" r="2.55" fill="#0b4e8e"/>
<circle cx="477.85" cy="362.8" r="2.55" fill="#0b4e8e"/>
<circle cx="445.6" cy="365.6" r="2.55" fill="#0b4e8e"/>
<circle cx="477.85" cy="367.88" r="2.55" fill="#0b4e8e"/>
<circle cx="445.6" cy="366.48" r="2.55" fill="#0b4e8e"/>
<circle cx="477.85" cy="373.6" r="2.55" fill="#0b4e8e"/>
<circle cx="445.6" cy="374.48" r="2.55" fill="#0b4e8e"/>
<circle cx="477.85" cy="367.88" r="2.55" fill="#0b4e8e"/>
<circle cx="445.6" cy="377.2" r="2.55" fill="#0b4e8e"/>
<circle cx="477.85" cy="375.4" r="2.55" fill="#0b4e8e"/>
<circle cx="445.6" cy="377.2" r="2.55" fill="#0b4e8e"/>
<circle cx="477.85" cy="386.48" r="2.55" fill="#0b4e8e"/>
<circle cx="445.6" cy="391.2" r="2.55" fill="#0b4e8e"/>
<circle cx="477.85" cy="388.2" r="2.55" fill="#0b4e8e"/>
<circle cx="445.6" cy="391.2" r="2.55" fill="#0b4e8e"/>
<circle cx="477.85" cy="387.2" r="2.55" fill="#0b4e8e"/>
<circle cx="445.6" cy="393.08" r="2.55" fill="#0b4e8e"/>
<circle cx="477.85" cy="393.4" r="2.55" fill="#0b4e8e"/>
<circle cx="445.6" cy="394.28" r="2.55" fill="#0b4e8e"/>
<circle cx="477.85" cy="403.8" r="2.55" fill="#0b4e8e"/>
<circle cx="445.6" cy="402.68" r="2.55" fill="#0b4e8e"/>
<circle cx="477.85" cy="403.8" r="2.55" fill="#0b4e8e"/>
<circle cx="445.6" cy="409.08" r="2.55" fill="#0b4e8e"/>
<circle cx="477.85" cy="412.28" r="2.55" fill="#0b4e8e"/>
<circle cx="445.6" cy="417.68" r="2.55" fill="#0b4e8e"/>
<circle cx="477.85" cy="418.6" r="2.55" fill="#0b4e8e"/>
<circle cx="445.6" cy="417.68" r="2.55" fill="#0b4e8e"/>
<circle cx="477.85" cy="422.2" r="2.55" fill="#0b4e8e"/>
<circle cx="445.6" cy="428.4" r="2.55" fill="#0b4e8e"/>
<circle cx="477.85" cy="438.4" r="2.55" fill="#0b4e8e"/>
<rect x="327" y="511.8" width="180.2" height="15.5" fill="#124d86"/>
<rect x="327" y="527.3" width="180.2" height="15.8" fill="#dfe5ed"/>
<rect x="327" y="543.1" width="180.2" height="15.5" fill="#adbfd5"/>
<text x="331.72" y="522.7" font-size="9.9" class="th" textLength="45.76" lengthAdjust="spacingAndGlyphs">Mean (SD)</text>
<text x="406.53" y="522.7" font-size="9.9" class="th" textLength="35.78" lengthAdjust="spacingAndGlyphs">Baseline</text>
<text x="474.42" y="522.7" font-size="9.9" class="th" textLength="10.4" lengthAdjust="spacingAndGlyphs">T1</text>
<text x="331.72" y="538.55" font-size="9.9" class="td" textLength="60.87" lengthAdjust="spacingAndGlyphs">Desmopressin</text>
<text x="399.03" y="538.55" font-size="9.9" class="td" textLength="51.25" lengthAdjust="spacingAndGlyphs">245.3 (58.0)</text>
<text x="454.13" y="538.55" font-size="9.9" class="td" textLength="51.25" lengthAdjust="spacingAndGlyphs">240.1 (62.7)</text>
<text x="331.72" y="554.2" font-size="9.9" class="td" textLength="36.52" lengthAdjust="spacingAndGlyphs">Exercise</text>
<text x="399.03" y="554.2" font-size="9.9" class="td" textLength="51.25" lengthAdjust="spacingAndGlyphs">244.0 (34.7)</text>
<text x="454.13" y="554.2" font-size="9.9" class="td" textLength="51.25" lengthAdjust="spacingAndGlyphs">271.8 (43.1)</text>
<text x="10.76" y="599.9" font-size="17.7" font-weight="bold" fill="#000" textLength="10.34" lengthAdjust="spacingAndGlyphs">E</text>
<line x1="59.7" y1="605" x2="59.7" y2="772.4" class="ax"/>
<line x1="59" y1="771.7" x2="221.7" y2="771.7" class="ax"/>
<line x1="55" y1="771.7" x2="59.7" y2="771.7" class="tk"/>
<text x="44.16" y="775.2" font-size="11.9" textLength="6.45" lengthAdjust="spacingAndGlyphs">0</text>
<line x1="55" y1="739.54" x2="59.7" y2="739.54" class="tk"/>
<text x="37.71" y="743.04" font-size="11.9" textLength="12.89" lengthAdjust="spacingAndGlyphs">50</text>
<line x1="55" y1="707.38" x2="59.7" y2="707.38" class="tk"/>
<text x="31.26" y="710.88" font-size="11.9" textLength="19.34" lengthAdjust="spacingAndGlyphs">100</text>
<line x1="55" y1="675.22" x2="59.7" y2="675.22" class="tk"/>
<text x="31.26" y="678.72" font-size="11.9" textLength="19.34" lengthAdjust="spacingAndGlyphs">150</text>
<line x1="55" y1="643.06" x2="59.7" y2="643.06" class="tk"/>
<text x="31.26" y="646.56" font-size="11.9" textLength="19.34" lengthAdjust="spacingAndGlyphs">200</text>
<line x1="55" y1="610.9" x2="59.7" y2="610.9" class="tk"/>
<text x="31.26" y="614.4" font-size="11.9" textLength="19.34" lengthAdjust="spacingAndGlyphs">250</text>
<line x1="102.2" y1="771.7" x2="102.2" y2="776.6" class="tk" style="stroke-width:1.35"/>
<line x1="182.95" y1="771.7" x2="182.95" y2="776.6" class="tk" style="stroke-width:1.35"/>
<text x="80.21" y="787.3" font-size="12.0" textLength="43.74" lengthAdjust="spacingAndGlyphs">Exercise</text>
<text x="145.13" y="787.3" font-size="12.0" textLength="75.84" lengthAdjust="spacingAndGlyphs">Desmopressin</text>
<text x="65.32" y="620.5" font-size="11.0" textLength="41.16" lengthAdjust="spacingAndGlyphs">Baseline</text>
<text x="111.98" y="620.5" font-size="11.0" textLength="11.4" lengthAdjust="spacingAndGlyphs">T1</text>
<text x="146.32" y="620.5" font-size="11.0" textLength="41.16" lengthAdjust="spacingAndGlyphs">Baseline</text>
<text x="192.98" y="620.5" font-size="11.0" textLength="11.4" lengthAdjust="spacingAndGlyphs">T1</text>
<g transform="translate(22.6,687.55) rotate(-90)"><text x="-57.52" y="0" font-size="15.0" textLength="115.16" lengthAdjust="spacingAndGlyphs">Col/Epi closure time (s)</text></g>
<line x1="86.2" y1="634.81" x2="118.3" y2="625.91" class="cn"/>
<line x1="86.2" y1="649.72" x2="118.3" y2="660.92" class="cn"/>
<line x1="86.2" y1="651.83" x2="118.3" y2="678.78" class="cn"/>
<line x1="86.2" y1="664.82" x2="118.3" y2="694.78" class="cn"/>
<line x1="86.2" y1="677.5" x2="118.3" y2="668.47" class="cn"/>
<line x1="86.2" y1="680.12" x2="118.3" y2="665.85" class="cn"/>
<line x1="86.2" y1="682.68" x2="118.3" y2="666.49" class="cn"/>
<line x1="86.2" y1="685.3" x2="118.3" y2="681.4" class="cn"/>
<line x1="86.2" y1="687.93" x2="118.3" y2="683.58" class="cn"/>
<line x1="86.2" y1="691" x2="118.3" y2="703.1" class="cn"/>
<line x1="86.2" y1="691" x2="118.3" y2="704.82" class="cn"/>
<line x1="86.2" y1="693.5" x2="118.3" y2="712.12" class="cn"/>
<line x1="86.2" y1="695.67" x2="118.3" y2="714.68" class="cn"/>
<line x1="86.2" y1="707.38" x2="118.3" y2="676.22" class="cn"/>
<line x1="86.2" y1="715.58" x2="118.3" y2="657.02" class="cn"/>
<line x1="166.85" y1="635.58" x2="198.95" y2="712.89" class="cn"/>
<line x1="166.85" y1="655.48" x2="198.95" y2="699.51" class="cn"/>
<line x1="166.85" y1="672.82" x2="198.95" y2="718.07" class="cn"/>
<line x1="166.85" y1="675" x2="198.95" y2="720.7" class="cn"/>
<line x1="166.85" y1="676.28" x2="198.95" y2="719.8" class="cn"/>
<line x1="166.85" y1="678.2" x2="198.95" y2="723.32" class="cn"/>
<line x1="166.85" y1="680.18" x2="198.95" y2="683.58" class="cn"/>
<line x1="166.85" y1="682.68" x2="198.95" y2="715.51" class="cn"/>
<line x1="166.85" y1="685.37" x2="198.95" y2="702.07" class="cn"/>
<line x1="166.85" y1="687.16" x2="198.95" y2="722.36" class="cn"/>
<line x1="166.85" y1="696.38" x2="198.95" y2="720.7" class="cn"/>
<line x1="166.85" y1="705.08" x2="198.95" y2="723.32" class="cn"/>
<line x1="166.85" y1="713.27" x2="198.95" y2="723.32" class="cn"/>
<line x1="166.85" y1="735.8" x2="198.95" y2="725.82" class="cn"/>
<circle cx="86.2" cy="634.81" r="2.55" fill="#cc0b2e"/>
<circle cx="118.3" cy="625.91" r="2.55" fill="#cc0b2e"/>
<circle cx="86.2" cy="649.72" r="2.55" fill="#cc0b2e"/>
<circle cx="118.3" cy="660.92" r="2.55" fill="#cc0b2e"/>
<circle cx="86.2" cy="651.83" r="2.55" fill="#cc0b2e"/>
<circle cx="118.3" cy="678.78" r="2.55" fill="#cc0b2e"/>
<circle cx="86.2" cy="664.82" r="2.55" fill="#cc0b2e"/>
<circle cx="118.3" cy="694.78" r="2.55" fill="#cc0b2e"/>
<circle cx="86.2" cy="677.5" r="2.55" fill="#cc0b2e"/>
<circle cx="118.3" cy="668.47" r="2.55" fill="#cc0b2e"/>
<circle cx="86.2" cy="680.12" r="2.55" fill="#cc0b2e"/>
<circle cx="118.3" cy="665.85" r="2.55" fill="#cc0b2e"/>
<circle cx="86.2" cy="682.68" r="2.55" fill="#cc0b2e"/>
<circle cx="118.3" cy="666.49" r="2.55" fill="#cc0b2e"/>
<circle cx="86.2" cy="685.3" r="2.55" fill="#cc0b2e"/>
<circle cx="118.3" cy="681.4" r="2.55" fill="#cc0b2e"/>
<circle cx="86.2" cy="687.93" r="2.55" fill="#cc0b2e"/>
<circle cx="118.3" cy="683.58" r="2.55" fill="#cc0b2e"/>
<circle cx="86.2" cy="691" r="2.55" fill="#cc0b2e"/>
<circle cx="118.3" cy="703.1" r="2.55" fill="#cc0b2e"/>
<circle cx="86.2" cy="691" r="2.55" fill="#cc0b2e"/>
<circle cx="118.3" cy="704.82" r="2.55" fill="#cc0b2e"/>
<circle cx="86.2" cy="693.5" r="2.55" fill="#cc0b2e"/>
<circle cx="118.3" cy="712.12" r="2.55" fill="#cc0b2e"/>
<circle cx="86.2" cy="695.67" r="2.55" fill="#cc0b2e"/>
<circle cx="118.3" cy="714.68" r="2.55" fill="#cc0b2e"/>
<circle cx="86.2" cy="707.38" r="2.55" fill="#cc0b2e"/>
<circle cx="118.3" cy="676.22" r="2.55" fill="#cc0b2e"/>
<circle cx="86.2" cy="715.58" r="2.55" fill="#cc0b2e"/>
<circle cx="118.3" cy="657.02" r="2.55" fill="#cc0b2e"/>
<circle cx="166.85" cy="635.58" r="2.55" fill="#0b4e8e"/>
<circle cx="198.95" cy="712.89" r="2.55" fill="#0b4e8e"/>
<circle cx="166.85" cy="655.48" r="2.55" fill="#0b4e8e"/>
<circle cx="198.95" cy="699.51" r="2.55" fill="#0b4e8e"/>
<circle cx="166.85" cy="672.82" r="2.55" fill="#0b4e8e"/>
<circle cx="198.95" cy="718.07" r="2.55" fill="#0b4e8e"/>
<circle cx="166.85" cy="675" r="2.55" fill="#0b4e8e"/>
<circle cx="198.95" cy="720.7" r="2.55" fill="#0b4e8e"/>
<circle cx="166.85" cy="676.28" r="2.55" fill="#0b4e8e"/>
<circle cx="198.95" cy="719.8" r="2.55" fill="#0b4e8e"/>
<circle cx="166.85" cy="678.2" r="2.55" fill="#0b4e8e"/>
<circle cx="198.95" cy="723.32" r="2.55" fill="#0b4e8e"/>
<circle cx="166.85" cy="680.18" r="2.55" fill="#0b4e8e"/>
<circle cx="198.95" cy="683.58" r="2.55" fill="#0b4e8e"/>
<circle cx="166.85" cy="682.68" r="2.55" fill="#0b4e8e"/>
<circle cx="198.95" cy="715.51" r="2.55" fill="#0b4e8e"/>
<circle cx="166.85" cy="685.37" r="2.55" fill="#0b4e8e"/>
<circle cx="198.95" cy="702.07" r="2.55" fill="#0b4e8e"/>
<circle cx="166.85" cy="687.16" r="2.55" fill="#0b4e8e"/>
<circle cx="198.95" cy="722.36" r="2.55" fill="#0b4e8e"/>
<circle cx="166.85" cy="696.38" r="2.55" fill="#0b4e8e"/>
<circle cx="198.95" cy="720.7" r="2.55" fill="#0b4e8e"/>
<circle cx="166.85" cy="705.08" r="2.55" fill="#0b4e8e"/>
<circle cx="198.95" cy="723.32" r="2.55" fill="#0b4e8e"/>
<circle cx="166.85" cy="713.27" r="2.55" fill="#0b4e8e"/>
<circle cx="198.95" cy="723.32" r="2.55" fill="#0b4e8e"/>
<circle cx="166.85" cy="735.8" r="2.55" fill="#0b4e8e"/>
<circle cx="198.95" cy="725.82" r="2.55" fill="#0b4e8e"/>
<rect x="50.55" y="797.2" width="180.2" height="15.5" fill="#124d86"/>
<rect x="50.55" y="812.7" width="180.2" height="15.8" fill="#dfe5ed"/>
<rect x="50.55" y="828.5" width="180.2" height="15.5" fill="#adbfd5"/>
<text x="55.27" y="808.1" font-size="9.9" class="th" textLength="45.76" lengthAdjust="spacingAndGlyphs">Mean (SD)</text>
<text x="130.08" y="808.1" font-size="9.9" class="th" textLength="35.78" lengthAdjust="spacingAndGlyphs">Baseline</text>
<text x="197.97" y="808.1" font-size="9.9" class="th" textLength="10.4" lengthAdjust="spacingAndGlyphs">T1</text>
<text x="55.27" y="823.95" font-size="9.9" class="td" textLength="60.87" lengthAdjust="spacingAndGlyphs">Desmopressin</text>
<text x="122.46" y="823.95" font-size="9.9" class="td" textLength="51.25" lengthAdjust="spacingAndGlyphs">137.3 (35.5)</text>
<text x="180.36" y="823.95" font-size="9.9" class="td" textLength="45.97" lengthAdjust="spacingAndGlyphs">87.2 (18.8)</text>
<text x="55.27" y="839.6" font-size="9.9" class="td" textLength="36.52" lengthAdjust="spacingAndGlyphs">Exercise</text>
<text x="122.46" y="839.6" font-size="9.9" class="td" textLength="51.25" lengthAdjust="spacingAndGlyphs">142.9 (34.1)</text>
<text x="177.56" y="839.6" font-size="9.9" class="td" textLength="51.25" lengthAdjust="spacingAndGlyphs">139.0 (37.0)</text>
<text x="287.29" y="599.9" font-size="17.7" font-weight="bold" fill="#000" textLength="10.11" lengthAdjust="spacingAndGlyphs">F</text>
<line x1="338.5" y1="605" x2="338.5" y2="772.4" class="ax"/>
<line x1="337.8" y1="771.7" x2="500.5" y2="771.7" class="ax"/>
<line x1="333.8" y1="771.7" x2="338.5" y2="771.7" class="tk"/>
<text x="322.96" y="775.2" font-size="11.9" textLength="6.45" lengthAdjust="spacingAndGlyphs">0</text>
<line x1="333.8" y1="731.5" x2="338.5" y2="731.5" class="tk"/>
<text x="316.51" y="735" font-size="11.9" textLength="12.89" lengthAdjust="spacingAndGlyphs">50</text>
<line x1="333.8" y1="691.3" x2="338.5" y2="691.3" class="tk"/>
<text x="310.06" y="694.8" font-size="11.9" textLength="19.34" lengthAdjust="spacingAndGlyphs">100</text>
<line x1="333.8" y1="651.1" x2="338.5" y2="651.1" class="tk"/>
<text x="310.06" y="654.6" font-size="11.9" textLength="19.34" lengthAdjust="spacingAndGlyphs">150</text>
<line x1="333.8" y1="610.9" x2="338.5" y2="610.9" class="tk"/>
<text x="310.06" y="614.4" font-size="11.9" textLength="19.34" lengthAdjust="spacingAndGlyphs">200</text>
<line x1="381" y1="771.7" x2="381" y2="776.6" class="tk" style="stroke-width:1.35"/>
<line x1="461.75" y1="771.7" x2="461.75" y2="776.6" class="tk" style="stroke-width:1.35"/>
<text x="359.01" y="787.3" font-size="12.0" textLength="43.74" lengthAdjust="spacingAndGlyphs">Exercise</text>
<text x="423.93" y="787.3" font-size="12.0" textLength="75.84" lengthAdjust="spacingAndGlyphs">Desmopressin</text>
<text x="344.12" y="620.5" font-size="11.0" textLength="41.16" lengthAdjust="spacingAndGlyphs">Baseline</text>
<text x="390.78" y="620.5" font-size="11.0" textLength="11.4" lengthAdjust="spacingAndGlyphs">T1</text>
<text x="425.12" y="620.5" font-size="11.0" textLength="41.16" lengthAdjust="spacingAndGlyphs">Baseline</text>
<text x="471.78" y="620.5" font-size="11.0" textLength="11.4" lengthAdjust="spacingAndGlyphs">T1</text>
<g transform="translate(301.3,687.85) rotate(-90)"><text x="-60.01" y="0" font-size="15.0" textLength="120.14" lengthAdjust="spacingAndGlyphs">Col/ADP closure time (s)</text></g>
<line x1="364.9" y1="643" x2="397.1" y2="685.8" class="cn"/>
<line x1="364.9" y1="671" x2="397.1" y2="667.64" class="cn"/>
<line x1="364.9" y1="671" x2="397.1" y2="683.88" class="cn"/>
<line x1="364.9" y1="679" x2="397.1" y2="678.6" class="cn"/>
<line x1="364.9" y1="681.08" x2="397.1" y2="721.96" class="cn"/>
<line x1="364.9" y1="686.2" x2="397.1" y2="686.52" class="cn"/>
<line x1="364.9" y1="686.52" x2="397.1" y2="689" class="cn"/>
<line x1="364.9" y1="688.6" x2="397.1" y2="698.68" class="cn"/>
<line x1="364.9" y1="690.68" x2="397.1" y2="704.2" class="cn"/>
<line x1="364.9" y1="690.68" x2="397.1" y2="694.12" class="cn"/>
<line x1="364.9" y1="692.76" x2="397.1" y2="706.28" class="cn"/>
<line x1="364.9" y1="692.76" x2="397.1" y2="708.52" class="cn"/>
<line x1="364.9" y1="700.36" x2="397.1" y2="732.6" class="cn"/>
<line x1="364.9" y1="707.16" x2="397.1" y2="706.28" class="cn"/>
<line x1="364.9" y1="707.16" x2="397.1" y2="724.12" class="cn"/>
<line x1="364.9" y1="713.08" x2="397.1" y2="708.52" class="cn"/>
<line x1="445.55" y1="668.36" x2="477.8" y2="701.56" class="cn"/>
<line x1="445.55" y1="674.6" x2="477.8" y2="722.92" class="cn"/>
<line x1="445.55" y1="679.88" x2="477.8" y2="725.48" class="cn"/>
<line x1="445.55" y1="686.12" x2="477.8" y2="704.28" class="cn"/>
<line x1="445.55" y1="690.12" x2="477.8" y2="706.92" class="cn"/>
<line x1="445.55" y1="694.12" x2="477.8" y2="709.56" class="cn"/>
<line x1="445.55" y1="696.68" x2="477.8" y2="711.8" class="cn"/>
<line x1="445.55" y1="703.8" x2="477.8" y2="717.56" class="cn"/>
<line x1="445.55" y1="704.28" x2="477.8" y2="735.72" class="cn"/>
<line x1="445.55" y1="709.56" x2="477.8" y2="701.56" class="cn"/>
<line x1="445.55" y1="712.28" x2="477.8" y2="728.2" class="cn"/>
<line x1="445.55" y1="714.92" x2="477.8" y2="722.92" class="cn"/>
<line x1="445.55" y1="717.56" x2="477.8" y2="709.56" class="cn"/>
<line x1="445.55" y1="721.48" x2="477.8" y2="704.28" class="cn"/>
<line x1="445.55" y1="724.2" x2="477.8" y2="717.56" class="cn"/>
<line x1="445.55" y1="727.32" x2="477.8" y2="706.92" class="cn"/>
<line x1="445.55" y1="727.32" x2="477.8" y2="733.48" class="cn"/>
<circle cx="364.9" cy="643" r="2.55" fill="#cc0b2e"/>
<circle cx="397.1" cy="685.8" r="2.55" fill="#cc0b2e"/>
<circle cx="364.9" cy="671" r="2.55" fill="#cc0b2e"/>
<circle cx="397.1" cy="667.64" r="2.55" fill="#cc0b2e"/>
<circle cx="364.9" cy="671" r="2.55" fill="#cc0b2e"/>
<circle cx="397.1" cy="683.88" r="2.55" fill="#cc0b2e"/>
<circle cx="364.9" cy="679" r="2.55" fill="#cc0b2e"/>
<circle cx="397.1" cy="678.6" r="2.55" fill="#cc0b2e"/>
<circle cx="364.9" cy="681.08" r="2.55" fill="#cc0b2e"/>
<circle cx="397.1" cy="721.96" r="2.55" fill="#cc0b2e"/>
<circle cx="364.9" cy="686.2" r="2.55" fill="#cc0b2e"/>
<circle cx="397.1" cy="686.52" r="2.55" fill="#cc0b2e"/>
<circle cx="364.9" cy="686.52" r="2.55" fill="#cc0b2e"/>
<circle cx="397.1" cy="689" r="2.55" fill="#cc0b2e"/>
<circle cx="364.9" cy="688.6" r="2.55" fill="#cc0b2e"/>
<circle cx="397.1" cy="698.68" r="2.55" fill="#cc0b2e"/>
<circle cx="364.9" cy="690.68" r="2.55" fill="#cc0b2e"/>
<circle cx="397.1" cy="704.2" r="2.55" fill="#cc0b2e"/>
<circle cx="364.9" cy="690.68" r="2.55" fill="#cc0b2e"/>
<circle cx="397.1" cy="694.12" r="2.55" fill="#cc0b2e"/>
<circle cx="364.9" cy="692.76" r="2.55" fill="#cc0b2e"/>
<circle cx="397.1" cy="706.28" r="2.55" fill="#cc0b2e"/>
<circle cx="364.9" cy="692.76" r="2.55" fill="#cc0b2e"/>
<circle cx="397.1" cy="708.52" r="2.55" fill="#cc0b2e"/>
<circle cx="364.9" cy="700.36" r="2.55" fill="#cc0b2e"/>
<circle cx="397.1" cy="732.6" r="2.55" fill="#cc0b2e"/>
<circle cx="364.9" cy="707.16" r="2.55" fill="#cc0b2e"/>
<circle cx="397.1" cy="706.28" r="2.55" fill="#cc0b2e"/>
<circle cx="364.9" cy="707.16" r="2.55" fill="#cc0b2e"/>
<circle cx="397.1" cy="724.12" r="2.55" fill="#cc0b2e"/>
<circle cx="364.9" cy="713.08" r="2.55" fill="#cc0b2e"/>
<circle cx="397.1" cy="708.52" r="2.55" fill="#cc0b2e"/>
<circle cx="445.55" cy="668.36" r="2.55" fill="#0b4e8e"/>
<circle cx="477.8" cy="701.56" r="2.55" fill="#0b4e8e"/>
<circle cx="445.55" cy="674.6" r="2.55" fill="#0b4e8e"/>
<circle cx="477.8" cy="722.92" r="2.55" fill="#0b4e8e"/>
<circle cx="445.55" cy="679.88" r="2.55" fill="#0b4e8e"/>
<circle cx="477.8" cy="725.48" r="2.55" fill="#0b4e8e"/>
<circle cx="445.55" cy="686.12" r="2.55" fill="#0b4e8e"/>
<circle cx="477.8" cy="704.28" r="2.55" fill="#0b4e8e"/>
<circle cx="445.55" cy="690.12" r="2.55" fill="#0b4e8e"/>
<circle cx="477.8" cy="706.92" r="2.55" fill="#0b4e8e"/>
<circle cx="445.55" cy="694.12" r="2.55" fill="#0b4e8e"/>
<circle cx="477.8" cy="709.56" r="2.55" fill="#0b4e8e"/>
<circle cx="445.55" cy="696.68" r="2.55" fill="#0b4e8e"/>
<circle cx="477.8" cy="711.8" r="2.55" fill="#0b4e8e"/>
<circle cx="445.55" cy="703.8" r="2.55" fill="#0b4e8e"/>
<circle cx="477.8" cy="717.56" r="2.55" fill="#0b4e8e"/>
<circle cx="445.55" cy="704.28" r="2.55" fill="#0b4e8e"/>
<circle cx="477.8" cy="735.72" r="2.55" fill="#0b4e8e"/>
<circle cx="445.55" cy="709.56" r="2.55" fill="#0b4e8e"/>
<circle cx="477.8" cy="701.56" r="2.55" fill="#0b4e8e"/>
<circle cx="445.55" cy="712.28" r="2.55" fill="#0b4e8e"/>
<circle cx="477.8" cy="728.2" r="2.55" fill="#0b4e8e"/>
<circle cx="445.55" cy="714.92" r="2.55" fill="#0b4e8e"/>
<circle cx="477.8" cy="722.92" r="2.55" fill="#0b4e8e"/>
<circle cx="445.55" cy="717.56" r="2.55" fill="#0b4e8e"/>
<circle cx="477.8" cy="709.56" r="2.55" fill="#0b4e8e"/>
<circle cx="445.55" cy="721.48" r="2.55" fill="#0b4e8e"/>
<circle cx="477.8" cy="704.28" r="2.55" fill="#0b4e8e"/>
<circle cx="445.55" cy="724.2" r="2.55" fill="#0b4e8e"/>
<circle cx="477.8" cy="717.56" r="2.55" fill="#0b4e8e"/>
<circle cx="445.55" cy="727.32" r="2.55" fill="#0b4e8e"/>
<circle cx="477.8" cy="706.92" r="2.55" fill="#0b4e8e"/>
<circle cx="445.55" cy="727.32" r="2.55" fill="#0b4e8e"/>
<circle cx="477.8" cy="733.48" r="2.55" fill="#0b4e8e"/>
<rect x="327" y="797.2" width="180.2" height="15.5" fill="#124d86"/>
<rect x="327" y="812.7" width="180.2" height="15.8" fill="#dfe5ed"/>
<rect x="327" y="828.5" width="180.2" height="15.5" fill="#adbfd5"/>
<text x="331.72" y="808.1" font-size="9.9" class="th" textLength="45.76" lengthAdjust="spacingAndGlyphs">Mean (SD)</text>
<text x="406.53" y="808.1" font-size="9.9" class="th" textLength="35.78" lengthAdjust="spacingAndGlyphs">Baseline</text>
<text x="474.42" y="808.1" font-size="9.9" class="th" textLength="10.4" lengthAdjust="spacingAndGlyphs">T1</text>
<text x="331.72" y="823.95" font-size="9.9" class="td" textLength="60.87" lengthAdjust="spacingAndGlyphs">Desmopressin</text>
<text x="401.69" y="823.95" font-size="9.9" class="td" textLength="45.97" lengthAdjust="spacingAndGlyphs">90.9 (24.0)</text>
<text x="456.77" y="823.95" font-size="9.9" class="td" textLength="45.97" lengthAdjust="spacingAndGlyphs">67.7 (14.1)</text>
<text x="331.72" y="839.6" font-size="9.9" class="td" textLength="36.52" lengthAdjust="spacingAndGlyphs">Exercise</text>
<text x="398.91" y="839.6" font-size="9.9" class="td" textLength="51.25" lengthAdjust="spacingAndGlyphs">105.4 (21.9)</text>
<text x="456.81" y="839.6" font-size="9.9" class="td" textLength="45.97" lengthAdjust="spacingAndGlyphs">89.8 (21.8)</text>
</svg>
<div id="frame"></div><div id="frame2"></div>
</body></html>
